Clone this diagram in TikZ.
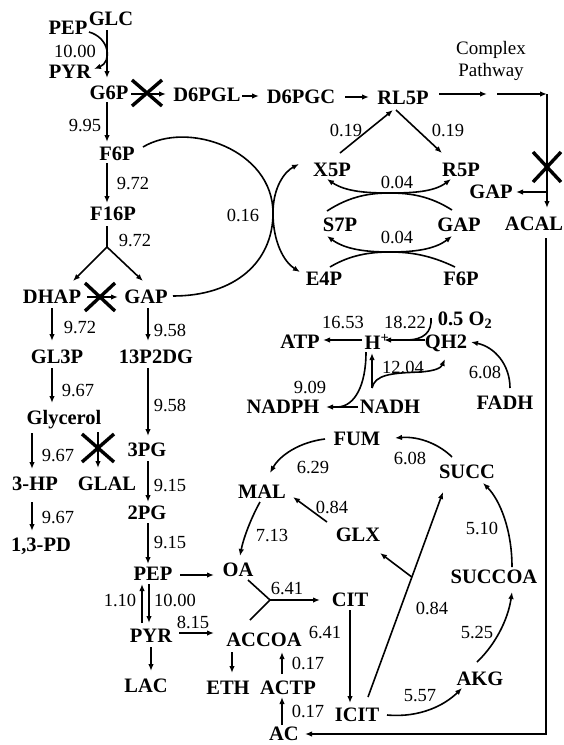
\documentclass[tikz,border=0pt]{standalone}
\usepackage{fontspec}
\setmainfont{Liberation Serif}
\usetikzlibrary{arrows.meta,calc}
\newcommand\spf{\fontsize{20.5}{22}\selectfont\bfseries}
\newcommand\nmf{\fontsize{18.5}{20}\selectfont}
\begin{document}
\begin{tikzpicture}[x=1pt,y=-1pt,line width=1.6pt,
  >={Latex[length=7pt,width=5.5pt]},
  sp/.style={font=\spf,inner sep=0pt,text depth=0pt},
  num/.style={font=\nmf,inner sep=0pt,text depth=0pt},
  xm/.style={line width=3.4pt},
  arr/.style={->}]
\useasboundingbox (0,0) rectangle (563,745);
% ---------- species ----------
\node[sp] (GLC) at (111,19) {GLC};
\node[sp] (PEPa) at (68,28) {PEP};
\node[sp] (PYRa) at (70,72) {PYR};
\node[sp] (G6P) at (109,93) {G6P};
\node[sp] (D6PGL) at (207,95) {D6PGL};
\node[sp] (D6PGC) at (301,97) {D6PGC};
\node[sp] (RL5P) at (403,98) {RL5P};
\node[font=\fontsize{19}{22}\selectfont,inner sep=0pt,align=center] (CP) at (491,61) {Complex\\Pathway};
\node[sp] (X5P) at (332,170) {X5P};
\node[sp] (R5P) at (461,170) {R5P};
\node[sp] (GAPr) at (491,192) {GAP};
\node[sp] (ACAL) at (534,224) {ACAL};
\node[sp] (S7P) at (340,225) {S7P};
\node[sp] (GAPm) at (459,225) {GAP};
\node[sp] (E4P) at (324,279) {E4P};
\node[sp] (F6Pr) at (461,279) {F6P};
\node[sp] (F6P) at (117,154) {F6P};
\node[sp] (F16P) at (113,214) {F16P};
\node[sp] (DHAP) at (52,297) {DHAP};
\node[sp] (GAPl) at (146,297) {GAP};
\node[sp] (GL3P) at (57,357) {GL3P};
\node[sp] (P13) at (156,357) {13P2DG};
\node[sp] (Glycerol) at (64,417) {Glycerol};
\node[sp] (PG3) at (147,450) {3PG};
\node[sp] (HP3) at (35,484) {3-HP};
\node[sp] (GLAL) at (107,484) {GLAL};
\node[sp] (PG2) at (147,513) {2PG};
\node[sp] (PD) at (41,545) {1,3-PD};
\node[sp] (PEPb) at (153,574) {PEP};
\node[sp] (OA) at (238,570) {OA};
\node[sp] (PYRb) at (151,636) {PYR};
\node[sp] (ACCOA) at (264,640) {ACCOA};
\node[sp] (LAC) at (146,686) {LAC};
\node[sp] (ETH) at (228,688) {ETH};
\node[sp] (ACTP) at (288,688) {ACTP};
\node[sp] (AC) at (284,734) {AC};
\node[sp] (CIT) at (350,600) {CIT};
\node[sp] (ICIT) at (357,715) {ICIT};
\node[sp] (AKG) at (480,679) {AKG};
\node[sp] (SUCCOA) at (494,577) {SUCCOA};
\node[sp] (SUCC) at (467,472) {SUCC};
\node[sp] (FUM) at (357,439) {FUM};
\node[sp] (MAL) at (262,492) {MAL};
\node[sp] (GLX) at (358,535) {GLX};
\node[sp] (ATP) at (300,342) {ATP};
\node[sp] (Hp) at (377,342) {H\textsuperscript{+}};
\node[sp] (QH2) at (446,342) {QH2};
\node[sp] (O2) at (465,319) {0.5 O\textsubscript{2}};
\node[sp] (NADPH) at (283,407) {NADPH};
\node[sp] (NADH) at (390,407) {NADH};
\node[sp] (FADH) at (505,403) {FADH};
% ---------- numbers ----------
\node[num] (l1) at (75,51) {10.00};
\node[num] (l2) at (85,125) {9.95};
\node[num] (l3) at (133,183) {9.72};
\node[num] (l4) at (135,240) {9.72};
\node[num] (l5) at (243,215) {0.16};
\node[num] (l6) at (80,327) {9.72};
\node[num] (l7) at (170,330) {9.58};
\node[num] (l8) at (78,390) {9.67};
\node[num] (l9) at (170,405) {9.58};
\node[num] (l10) at (58,455) {9.67};
\node[num] (l11) at (170,485) {9.15};
\node[num] (l12) at (58,517) {9.67};
\node[num] (l13) at (170,542) {9.15};
\node[num] (l14) at (120,600) {1.10};
\node[num] (l15) at (175,600) {10.00};
\node[num] (l16) at (193,622) {8.15};
\node[num] (l17) at (308,663) {0.17};
\node[num] (l18) at (308,711) {0.17};
\node[num] (l19) at (287,588) {6.41};
\node[num] (l20) at (325,632) {6.41};
\node[num] (l21) at (420,695) {5.57};
\node[num] (l22) at (477,632) {5.25};
\node[num] (l23) at (432,608) {0.84};
\node[num] (l24) at (482,528) {5.10};
\node[num] (l25) at (410,458) {6.08};
\node[num] (l26) at (313,467) {6.29};
\node[num] (l27) at (272,535) {7.13};
\node[num] (l28) at (332,507) {0.84};
\node[num] (l29) at (346,130) {0.19};
\node[num] (l30) at (448,130) {0.19};
\node[num] (l31) at (397,182) {0.04};
\node[num] (l32) at (397,237) {0.04};
\node[num] (l33) at (343,322) {16.53};
\node[num] (l34) at (405,322) {18.22};
\node[num] (l35) at (310,387) {9.09};
\node[num] (l36) at (403,367) {12.04};
\node[num] (l37) at (485,372) {6.08};
% ---------- upper glycolysis ----------
\draw[arr] ($(GLC)+(-4,11)$) -- ($(G6P)+(-2,-15)$);
\draw[arr] ($(PEPa)+(21,4)$) .. controls (110,38) and (112,62) .. ($(PYRa)+(24,-3)$);
\draw[arr] ($(G6P)+(22,1)$) -- ($(D6PGL)+(-41,-1)$);
\coordinate (xg6p) at (147,93);
\draw[xm] ($(xg6p)+(-15,-13)$) -- ($(xg6p)+(15,13)$) ($(xg6p)+(-15,13)$) -- ($(xg6p)+(15,-13)$);
\draw[arr] ($(D6PGL)+(35,1)$) -- ($(D6PGC)+(-42,-1)$);
\draw[arr] ($(D6PGC)+(44,0)$) -- ($(RL5P)+(-34,-1)$);
\draw[arr] ($(RL5P)+(36,-4)$) -- ($(CP)+(-4,33)$);
\coordinate (cor1) at (547,94);
\draw[arr] ($(CP)+(6,33)$) -- (cor1);
\draw[arr] (cor1) -- ($(ACAL)+(13,-16)$);
\draw[arr] ($(GAPr)+(56,0)$) -- ($(GAPr)+(25,0)$);
\coordinate (xacal) at (547,167);
\draw[xm] ($(xacal)+(-14,-15)$) -- ($(xacal)+(14,15)$) ($(xacal)+(-14,15)$) -- ($(xacal)+(14,-15)$);
\coordinate (cor2) at (546,734);
\draw[arr] ($(ACAL)+(12,14)$) -- (cor2) -- ($(AC)+(21,0)$);
% ---------- pentose phosphate ----------
\draw[arr] ($(X5P)+(8,-17)$) -- ($(RL5P)+(-10,12)$);
\draw[arr] ($(RL5P)+(-7,12)$) -- ($(R5P)+(-19,-17)$);
\draw[arr] ($(S7P)+(-13,-14)$) .. controls (350,196) and (370,193) .. (390,193) .. controls (412,193) and (434,192) .. ($(R5P)+(-10,9)$);
\draw[arr] ($(GAPm)+(-7,-15)$) .. controls (430,196) and (410,193) .. (390,193) .. controls (368,193) and (346,192) .. ($(X5P)+(-5,9)$);
\draw[arr] ($(E4P)+(6,-12)$) .. controls (350,255) and (370,252) .. (390,252) .. controls (412,252) and (434,250) .. ($(GAPm)+(-7,11)$);
\draw[arr] ($(F6Pr)+(-6,-12)$) .. controls (430,255) and (410,252) .. (390,252) .. controls (368,252) and (346,250) .. ($(S7P)+(-13,11)$);
\draw[arr] ($(F6P)+(26,-7)$) .. controls (188,120) and (273,150) .. (273,213) .. controls (273,242) and (284,262) .. ($(E4P)+(-24,-7)$);
\draw[arr] ($(GAPl)+(27,-1)$) .. controls (235,296) and (273,262) .. (273,213) .. controls (273,188) and (284,172) .. ($(X5P)+(-33,-6)$);
% ---------- lower glycolysis ----------
\draw[arr] ($(G6P)+(-2,9)$) -- ($(F6P)+(-10,-12)$);
\draw[arr] ($(F6P)+(-10,9)$) -- ($(F16P)+(-6,-11)$);
\coordinate (fork1) at (107,247);
\draw ($(F16P)+(-6,12)$) -- (fork1);
\draw[arr] (fork1) -- ($(DHAP)+(21,-16)$);
\draw[arr] (fork1) -- ($(GAPl)+(-3,-16)$);
\draw[arr] ($(DHAP)+(35,0)$) -- ($(GAPl)+(-28,0)$);
\coordinate (xdhap) at (100,297);
\draw[xm] ($(xdhap)+(-15,-14)$) -- ($(xdhap)+(15,14)$) ($(xdhap)+(-15,14)$) -- ($(xdhap)+(15,-14)$);
\draw[arr] ($(DHAP)+(0,11)$) -- ($(GL3P)+(-5,-16)$);
\draw[arr] ($(GAPl)+(2,11)$) -- ($(P13)+(-8,-16)$);
\draw[arr] ($(GL3P)+(-5,11)$) -- ($(Glycerol)+(-12,-14)$);
\draw[arr] ($(P13)+(-8,11)$) -- ($(PG3)+(1,-14)$);
\draw[arr] ($(Glycerol)+(-32,16)$) -- ($(HP3)+(-3,-15)$);
\draw[arr] ($(Glycerol)+(34,15)$) -- ($(GLAL)+(-9,-16)$);
\coordinate (xglal) at (98,448);
\draw[xm] ($(xglal)+(-16,-14)$) -- ($(xglal)+(16,14)$) ($(xglal)+(-16,14)$) -- ($(xglal)+(16,-14)$);
\draw[arr] ($(PG3)+(1,11)$) -- ($(PG2)+(1,-11)$);
\draw[arr] ($(HP3)+(-3,18)$) -- ($(PD)+(-9,-14)$);
\draw[arr] ($(PG2)+(1,10)$) -- ($(PEPb)+(-5,-10)$);
\draw[arr] ($(PEPb)+(27,1)$) -- ($(OA)+(-24,5)$);
\draw[arr] ($(PYRb)+(-9,-13)$) -- ($(PEPb)+(-11,10)$);
\draw[arr] ($(PEPb)+(-4,10)$) -- ($(PYRb)+(-2,-13)$);
\draw[arr] ($(PYRb)+(28,-3)$) -- ($(ACCOA)+(-50,-7)$);
\draw[arr] ($(PYRb)+(0,11)$) -- ($(LAC)+(5,-15)$);
\draw[arr] ($(ACCOA)+(-32,12)$) -- ($(ETH)+(4,-15)$);
\draw[arr] ($(ACTP)+(-6,-14)$) -- ($(ACCOA)+(18,12)$);
\draw[arr] ($(AC)+(-2,-9)$) -- ($(ACTP)+(-6,9)$);
% ---------- TCA ----------
\coordinate (fork2) at (270,600);
\draw ($(OA)+(10,10)$) -- (fork2);
\draw ($(ACCOA)+(-14,-20)$) -- (fork2);
\draw[arr] (fork2) -- ($(CIT)+(-30,0)$);
\draw[arr] ($(CIT)+(0,10)$) -- ($(ICIT)+(-7,-12)$);
\draw[arr] ($(ICIT)+(30,0)$) .. controls (420,718) and (445,705) .. ($(AKG)+(-18,9)$);
\draw[arr] ($(AKG)+(-3,-17)$) .. controls (495,645) and (508,620) .. ($(SUCCOA)+(18,15)$);
\draw[arr] ($(SUCCOA)+(18,-10)$) .. controls (512,530) and (500,500) .. ($(SUCC)+(16,11)$);
\draw[arr] ($(SUCC)+(-15,-15)$) .. controls (440,445) and (420,436) .. ($(FUM)+(38,-1)$);
\draw[arr] ($(FUM)+(-32,0)$) .. controls (300,442) and (280,455) .. ($(MAL)+(8,-19)$);
\draw[arr] ($(MAL)+(-2,10)$) .. controls (250,520) and (243,540) .. ($(OA)+(2,-14)$);
\draw[arr] ($(GLX)+(-31,-13)$) -- ($(MAL)+(31,5)$);
\coordinate (ic1) at ($(ICIT)+(11,-18)$);
\coordinate (ic2) at ($(SUCC)+(-24,20)$);
\draw[arr] (ic1) -- (ic2);
\coordinate (br) at ($(ic1)!0.585!(ic2)$);
\draw[arr] (br) -- ($(GLX)+(22,18)$);
% ---------- energy ----------
\draw[arr] ($(Hp)+(-15,-2)$) -- ($(ATP)+(23,-2)$);
\draw[arr] ($(QH2)+(-21,-2)$) -- ($(Hp)+(7,-2)$);
\draw ($(O2)+(-34,-1)$) .. controls (432,332) and (424,340) .. (406,340);
\draw[arr] ($(NADH)+(-32,0)$) -- ($(NADPH)+(43,0)$);
\draw[arr] ($(NADH)+(-18,-19)$) -- ($(Hp)+(-5,11)$);
\draw ($(Hp)+(-11,10)$) .. controls (366,385) and (355,406) .. (338,407);
\draw[arr] ($(NADH)+(-18,-19)$) .. controls (375,375) and (390,373) .. (420,372) .. controls (435,371) and (441,368) .. ($(QH2)+(-1,17)$);
\draw[arr] ($(FADH)+(5,-15)$) .. controls (510,365) and (495,347) .. ($(QH2)+(25,0)$);
\end{tikzpicture}
\end{document}
